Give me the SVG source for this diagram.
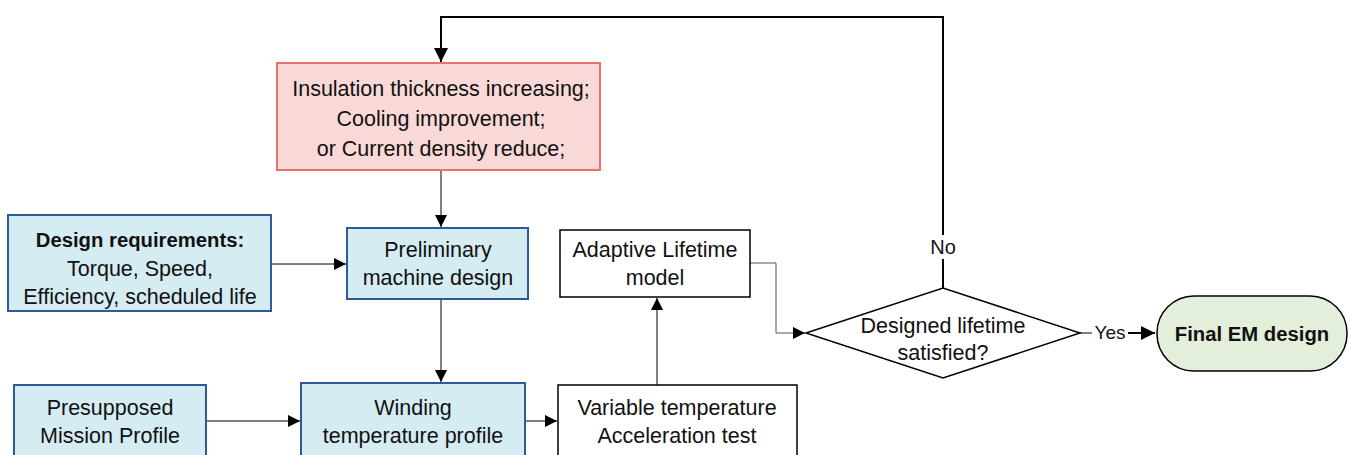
<svg xmlns="http://www.w3.org/2000/svg" width="1350" height="455" viewBox="0 0 1350 455">
<style>
text{font-family:"Liberation Sans",Arial,sans-serif;font-size:21.5px;fill:#111;text-anchor:middle}
.b{font-weight:bold;font-size:20.3px}
.blue{fill:#D5ECF3;stroke:#2E5A9A;stroke-width:2}
.red{fill:#F9D9D7;stroke:#E8716D;stroke-width:2}
.white{fill:#fff;stroke:#000;stroke-width:1.5}
.green{fill:#E3EFDA;stroke:#000;stroke-width:1.5}
.c{fill:none;stroke:#000;stroke-width:1}
.cg{fill:none;stroke:#555;stroke-width:1}
.ct{fill:none;stroke:#000;stroke-width:2}
</style>
<defs>
<marker id="ah" viewBox="0 0 10 10" refX="10" refY="5" markerWidth="12" markerHeight="12" markerUnits="userSpaceOnUse" orient="auto"><path d="M0,0 L10,5 L0,10 z" fill="#000"/></marker>
<marker id="ahb" viewBox="0 0 10 10" refX="10" refY="5" markerWidth="14" markerHeight="14" markerUnits="userSpaceOnUse" orient="auto"><path d="M0,0 L10,5 L0,10 z" fill="#000"/></marker>
</defs>
<g id="connectors">
<path class="ct" d="M943,235 V17 H441 V62" marker-end="url(#ahb)"/>
<path class="ct" d="M943,288 V259"/>
<path class="c" d="M441,170 V227" marker-end="url(#ah)"/>
<path class="c" d="M271,264 H346" marker-end="url(#ah)"/>
<path class="c" d="M441,299 V382" marker-end="url(#ah)"/>
<path class="c" d="M206,421 H300" marker-end="url(#ah)"/>
<path class="c" d="M525,421 H557" marker-end="url(#ah)"/>
<path class="c" d="M657,385 V298" marker-end="url(#ah)"/>
<path class="cg" d="M750,263 H776 V333 H805" marker-end="url(#ah)"/>
<path class="c" d="M1080,333 H1092"/>
<path class="ct" d="M1128,333 H1155" marker-end="url(#ahb)"/>
<text x="943" y="254" style="font-size:20px">No</text>
<text x="1110" y="339" style="font-size:19px">Yes</text>
</g>
<g id="n_red">
<rect class="red" x="277" y="63" width="323" height="107"/>
<text x="441" y="96">Insulation thickness increasing;</text>
<text x="441" y="126">Cooling improvement;</text>
<text x="441" y="156">or Current density reduce;</text>
</g>
<g id="n_req">
<rect class="blue" x="8" y="215" width="263" height="96"/>
<text x="140" y="247" class="b">Design requirements:</text>
<text x="140" y="276">Torque, Speed,</text>
<text x="140" y="304">Efficiency, scheduled life</text>
</g>
<g id="n_pre">
<rect class="blue" x="347" y="228" width="181" height="71"/>
<text x="438" y="257">Preliminary</text>
<text x="438" y="285">machine design</text>
</g>
<g id="n_mission">
<rect class="blue" x="14" y="385" width="192" height="80"/>
<text x="110" y="415">Presupposed</text>
<text x="110" y="443">Mission Profile</text>
</g>
<g id="n_winding">
<rect class="blue" x="301" y="383" width="224" height="82"/>
<text x="413" y="415">Winding</text>
<text x="413" y="443">temperature profile</text>
</g>
<g id="n_var">
<rect class="white" x="558" y="385" width="239" height="80"/>
<text x="677" y="415">Variable temperature</text>
<text x="677" y="443">Acceleration test</text>
</g>
<g id="n_adapt">
<rect class="white" x="560" y="230" width="190" height="67"/>
<text x="655" y="257">Adaptive Lifetime</text>
<text x="655" y="285">model</text>
</g>
<g id="n_dec">
<path class="white" d="M806,333 L943,288 L1080,333 L943,378 Z"/>
<text x="943" y="333">Designed lifetime</text>
<text x="943" y="360">satisfied?</text>
</g>
<g id="n_final">
<rect class="green" x="1157" y="296" width="190" height="75" rx="37" ry="37"/>
<text x="1252" y="341" class="b">Final EM design</text>
</g>
</svg>
